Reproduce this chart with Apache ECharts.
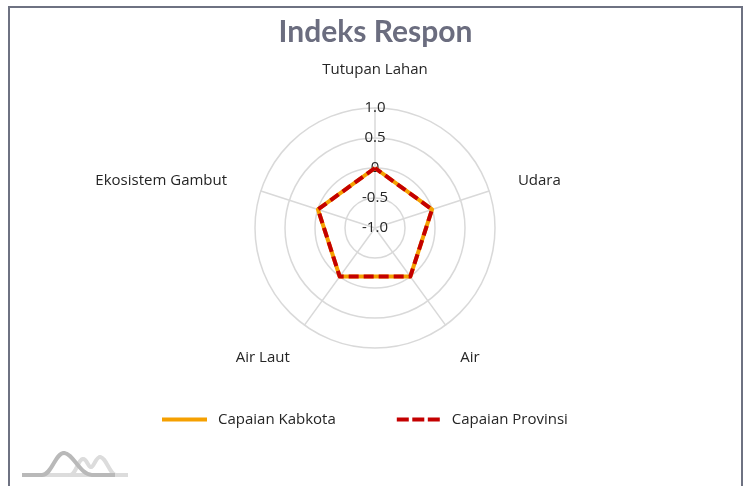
<!DOCTYPE html>
<html>
<head>
<meta charset="utf-8">
<title>Indeks Respon</title>
<script src="https://cdn.jsdelivr.net/npm/echarts@6/dist/echarts.min.js"></script>
<style>
  html, body { margin: 0; padding: 0; background: #ffffff; }
  #chart { width: 751px; height: 486px; }
</style>
</head>
<body>
<div id="chart"></div>
<script>
// Radar axes, listed counter-clockwise from the top (ECharts' default direction)
const indicatorNames = ['Tutupan Lahan', 'Ekosistem Gambut', 'Air Laut', 'Air', 'Udara'];
const axisMin = -1;
const axisMax = 1;

// Index values per axis, same order as indicatorNames
const capaianKabkota = [0, 0, 0, 0, 0];
const capaianProvinsi = [0, 0, 0, 0, 0];

const seriesNames = ['Capaian Kabkota', 'Capaian Provinsi'];
const colorKabkota = '#f5a000';
const colorProvinsi = '#c40000';

const labelFont = 'Open Sans';
const labelColor = '#252525';
const labelSize = 15;
const gridColor = '#d9d9d9';

const chart = echarts.init(document.getElementById('chart'), null, { renderer: 'canvas' });

const indicator = indicatorNames.map((name, i) => {
  const item = { name: name, min: axisMin, max: axisMax };
  if (i === 0) {
    // only the top axis carries the value scale
    item.axisLabel = { show: true };
  }
  return item;
});

// per-axis name styles: small nudges around the ring
const nameBase = { color: labelColor, fontFamily: labelFont, fontSize: labelSize };
const nameRich = {
  n0: Object.assign({ padding: [0, 0, 6, 0] }, nameBase),
  n1: Object.assign({ padding: [0, 10, 4, 0] }, nameBase),
  n2: Object.assign({ padding: [24, 0, 0, 0] }, nameBase),
  n3: Object.assign({ padding: [24, 0, 0, 0] }, nameBase),
  n4: Object.assign({ padding: [0, 0, 4, 5] }, nameBase)
};

function curve(p0, c1, c2, p1, stroke) {
  return {
    type: 'bezierCurve',
    silent: true,
    shape: { x1: p0[0], y1: p0[1], cpx1: c1[0], cpy1: c1[1], cpx2: c2[0], cpy2: c2[1], x2: p1[0], y2: p1[1] },
    style: { stroke: stroke, lineWidth: 4, fill: 'none', lineCap: 'round' }
  };
}

const markLight = '#dcdcdc';
const markDark = '#b9b9b9';

const option = {
  backgroundColor: '#ffffff',
  animation: false,
  title: {
    text: 'Indeks Respon',
    left: 'center',
    top: 12,
    textStyle: {
      fontFamily: 'Lato',
      fontWeight: 'bold',
      fontSize: 30,
      color: '#6b6d7f'
    }
  },
  legend: {
    left: 157,
    top: 407,
    itemWidth: 45,
    itemHeight: 4,
    itemGap: 61,
    textStyle: {
      fontFamily: labelFont,
      fontSize: labelSize,
      color: labelColor,
      padding: [0, 0, 0, 6]
    },
    data: [
      { name: seriesNames[0], icon: 'path://M0,0h45v4h-45z' },
      { name: seriesNames[1], icon: 'path://M0,0h12v4h-12zM15.5,0h12v4h-12zM31,0h12v4h-12z' }
    ]
  },
  radar: {
    center: [375, 228],
    radius: 120,
    startAngle: 90,
    splitNumber: 4,
    shape: 'circle',
    indicator: indicator,
    axisName: {
      color: labelColor,
      fontFamily: labelFont,
      fontSize: labelSize,
      formatter: function (name) {
        const i = indicatorNames.indexOf(name);
        return '{n' + i + '|' + name + '}';
      },
      rich: nameRich
    },
    nameGap: 25,
    axisLine: { lineStyle: { color: gridColor, width: 1.5 } },
    splitLine: { lineStyle: { color: gridColor, width: 1.5 } },
    splitArea: { show: false },
    axisTick: { show: false },
    axisLabel: {
      show: false,
      margin: 0,
      align: 'center',
      verticalAlign: 'middle',
      color: labelColor,
      fontFamily: labelFont,
      fontSize: labelSize,
      formatter: v => (v === 0 ? '0' : v.toFixed(1))
    }
  },
  series: [
    {
      name: seriesNames[0],
      type: 'radar',
      symbol: 'none',
      lineStyle: { color: colorKabkota, width: 4, type: 'solid' },
      itemStyle: { color: colorKabkota },
      data: [{ value: capaianKabkota, name: seriesNames[0] }]
    },
    {
      name: seriesNames[1],
      type: 'radar',
      symbol: 'none',
      lineStyle: { color: colorProvinsi, width: 4, type: [10, 5] },
      itemStyle: { color: colorProvinsi },
      data: [{ value: capaianProvinsi, name: seriesNames[1] }]
    }
  ],
  graphic: [
    // card frame
    {
      type: 'rect',
      silent: true,
      shape: { x: 9, y: 7, width: 733, height: 500 },
      style: { fill: 'none', stroke: '#6e7282', lineWidth: 2 }
    },
    // footer mark: baseline, light double hump, dark single hump
    {
      type: 'line',
      silent: true,
      shape: { x1: 22, y1: 475, x2: 128, y2: 475 },
      style: { stroke: markLight, lineWidth: 4 }
    },
    curve([70, 475], [76, 475], [78, 459], [83, 459], markLight),
    curve([83, 459], [87, 459], [88, 467], [91, 467], markLight),
    curve([91, 467], [94, 467], [96, 457], [100, 457], markLight),
    curve([100, 457], [106, 457], [110, 475], [116, 475], markLight),
    {
      type: 'line',
      silent: true,
      shape: { x1: 22, y1: 475, x2: 42, y2: 475 },
      style: { stroke: markDark, lineWidth: 4 }
    },
    curve([42, 475], [52, 475], [55, 453], [64, 453], markDark),
    curve([64, 453], [73, 453], [80, 475], [92, 475], markDark),
    {
      type: 'line',
      silent: true,
      shape: { x1: 92, y1: 475, x2: 115, y2: 475 },
      style: { stroke: markDark, lineWidth: 4 }
    }
  ]
};

chart.setOption(option);
</script>
</body>
</html>
